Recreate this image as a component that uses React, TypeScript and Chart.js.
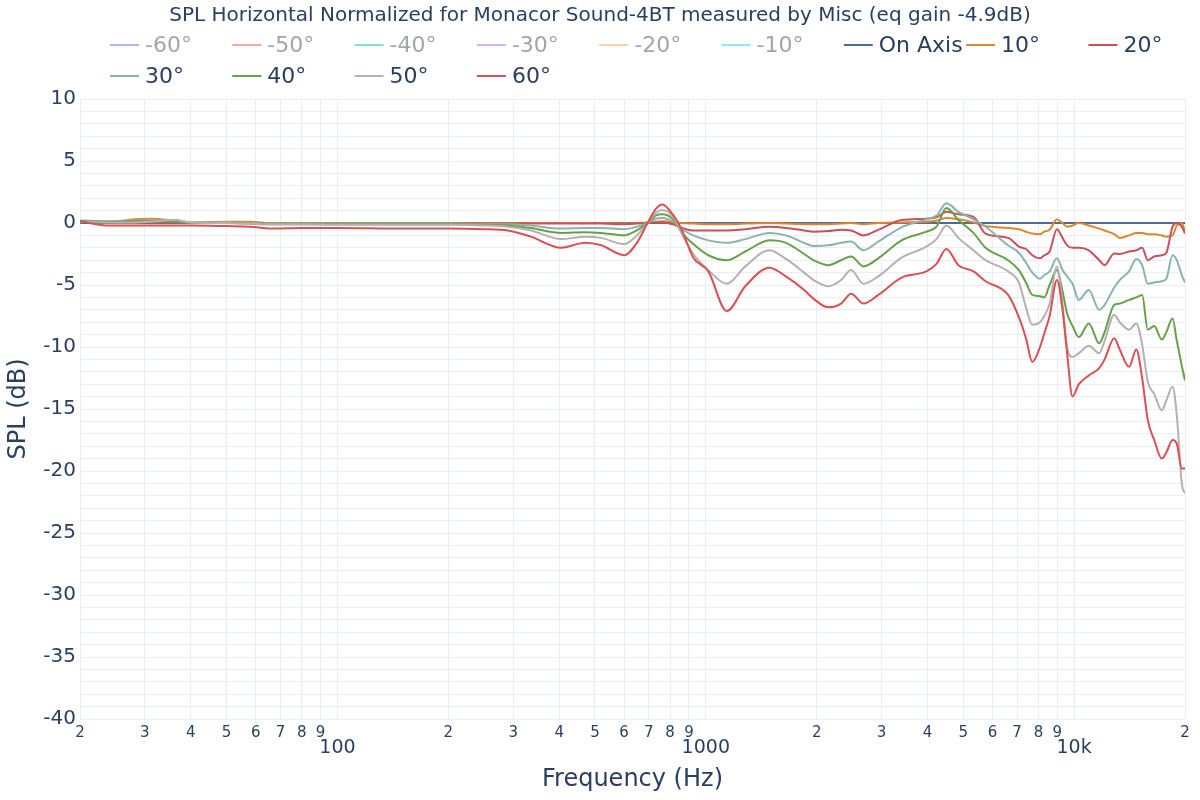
import React, { useEffect, useRef } from 'react';
import { Chart, registerables } from 'chart.js';

Chart.register(...registerables);

const TITLE = 'SPL Horizontal Normalized for Monacor Sound-4BT measured by Misc (eq gain -4.9dB)';
const X_TITLE = 'Frequency (Hz)';
const Y_TITLE = 'SPL (dB)';

const FREQ = [
  20, 24, 28, 31, 36, 40, 50, 58, 66, 80,
  100, 150, 200, 250, 290, 335, 405, 470, 520, 600,
  650, 695, 730, 762, 815, 862, 925, 1016, 1140, 1280,
  1490, 1650, 1850, 1960, 2150, 2330, 2480, 2680, 2940, 3400,
  3970, 4230, 4500, 4850, 5330, 5750, 6620, 7080, 7400, 7700,
  8080, 8300, 8580, 8980, 9300, 9570, 9900, 10300, 10960, 11700,
  12100, 12850, 13300, 14100, 14750, 15300, 15850, 16500, 17300, 17800,
  18500, 19000, 19600, 20000,
];

const ON_AXIS_FREQ = [20, 20000];
const ON_AXIS_SPL = [0, 0];

const SPL_10 = [
  0.1, 0.05, 0.3, 0.35, 0.2, 0.05, 0.1, 0.1, 0, 0,
  0, 0, 0, 0, 0, 0, 0, 0, 0, -0.05,
  0, 0.05, 0.1, 0.15, 0.1, 0, -0.05, -0.1, -0.1, -0.05,
  0, -0.05, -0.1, -0.1, -0.1, -0.05, 0, -0.1, 0, 0.05,
  0.1, 0.2, 0.4, 0.3, 0.05, -0.25, -0.4, -0.5, -0.7, -0.85,
  -0.9, -0.7, -0.55, 0.3, 0, -0.3, -0.2, 0, -0.2, -0.45,
  -0.6, -0.9, -1.2, -1.0, -0.8, -0.8, -0.9, -0.9, -1.0, -1.1,
  -1.0, -0.2, 0.0, -0.7,
];

const SPL_20 = [
  0.15, 0, 0, 0.05, 0.05, 0, 0, 0, -0.05, -0.05,
  -0.05, -0.05, -0.05, -0.05, -0.05, -0.05, -0.05, -0.05, -0.05, -0.1,
  -0.05, 0, 0.05, 0.05, -0.1, -0.4, -0.6, -0.6, -0.6, -0.5,
  -0.3, -0.4, -0.6, -0.7, -0.65, -0.55, -0.6, -1.0, -0.55, 0.25,
  0.35, 0.45, 0.9, 0.7, 0.5, -0.85, -1.2, -1.9, -2.1, -2.6,
  -2.85, -2.6, -2.3, -0.5, -1.2, -1.8, -2.0, -2.0, -2.2, -3.0,
  -3.4, -2.45, -2.5, -2.3, -2.2, -2.0, -3.0, -2.7, -2.6, -2.4,
  -0.3, 0, -0.3, -0.85,
];

const SPL_30 = [
  0.2, 0.15, 0.2, 0.2, 0.25, 0.05, 0.05, 0, -0.05, -0.05,
  -0.05, -0.05, -0.05, -0.1, -0.1, -0.2, -0.45, -0.4, -0.4, -0.5,
  -0.3, 0, 0.35, 0.4, 0.1, -0.5, -1.0, -1.4, -1.6, -1.3,
  -0.8, -1.0, -1.6, -1.85, -1.8, -1.6, -1.5, -2.2, -1.5, -0.35,
  0.3, 0.6, 1.6, 0.9, 0.3, -0.3, -1.8, -2.4, -3.2, -4.0,
  -4.5, -4.2, -3.9, -2.85, -3.8, -4.3, -4.9, -6.2, -5.4, -7.0,
  -6.6, -5.2, -4.6, -3.9, -2.9, -3.4, -4.9, -4.8, -4.7, -4.5,
  -2.6, -3.0, -4.2, -4.8,
];

const SPL_40 = [
  0.15, 0.1, 0.15, 0.15, 0.1, 0, 0, -0.05, -0.1, -0.1,
  -0.1, -0.1, -0.1, -0.15, -0.2, -0.4, -0.8, -0.75, -0.8, -1.0,
  -0.6, 0, 0.6, 0.7, 0.3, -0.8, -1.7, -2.6, -3.0, -2.3,
  -1.4, -1.6, -2.5, -3.0, -3.4, -3.0, -2.7, -3.5, -2.85, -1.4,
  -0.7, -0.3, 1.2, 0.25, -0.8, -2.0, -3.0, -3.8, -4.8, -5.8,
  -5.9, -6.0, -5.0, -3.8, -5.5, -7.3, -8.3, -9.2, -8.1, -9.7,
  -8.8, -6.6, -6.5, -6.2, -6.0, -5.8, -8.6, -8.3, -9.4, -8.8,
  -7.7, -9.5, -11.5, -12.7,
];

const SPL_50 = [
  0.1, 0.05, 0.05, 0.1, 0.25, 0.05, 0, -0.05, -0.1, -0.1,
  -0.15, -0.15, -0.15, -0.2, -0.3, -0.6, -1.3, -1.1, -1.2, -1.7,
  -1.0, 0, 0.8, 1.05, 0.5, -0.9, -2.5, -3.8, -4.9, -3.5,
  -2.2, -2.9, -4.0, -4.6, -5.1, -4.6, -3.8, -4.9, -4.3, -2.8,
  -1.9, -1.3, -0.2, -1.2, -2.2, -3.0, -3.9, -4.8, -6.8, -8.2,
  -8.0, -7.5, -6.5, -3.5, -6.5, -10.0, -10.8, -10.5, -9.9, -10.5,
  -9.5, -7.4, -8.0, -8.6, -8.1, -9.8, -12.8, -13.8, -15.1, -14.3,
  -13.2, -15.5, -21.0, -21.8,
];

const SPL_60 = [
  0.15, -0.2, -0.2, -0.2, -0.2, -0.2, -0.25, -0.3, -0.45, -0.4,
  -0.4, -0.45, -0.45, -0.5, -0.6, -1.1, -2.0, -1.6, -1.8, -2.6,
  -1.6, 0, 1.1, 1.5, 0.65, -0.6, -2.8, -3.9, -7.1, -5.1,
  -3.6, -4.3, -5.4, -6.1, -6.8, -6.5, -5.7, -6.5, -5.8, -4.4,
  -3.9, -3.3, -2.1, -3.4, -3.9, -4.7, -5.8, -7.6, -9.3, -11.2,
  -10.0, -8.9, -7.5, -4.6, -7.0, -10.5, -14.0, -13.0, -12.3, -11.7,
  -11.0, -9.3, -10.2, -11.6, -10.2, -12.5, -15.9, -17.5, -19.0, -18.5,
  -17.5, -17.8, -19.8, -19.8,
];

const X_TICKS = [
  20, 30, 40, 50, 60, 70, 80, 90,
  100, 200, 300, 400, 500, 600, 700, 800, 900,
  1000, 2000, 3000, 4000, 5000, 6000, 7000, 8000, 9000,
  10000, 20000,
];
const X_DECADES = [100, 1000, 10000];
const X_DECADE_LABELS = ['100', '1000', '10k'];
const Y_MIN = -40;
const Y_MAX = 10;
const Y_LABELS = [-40, -35, -30, -25, -20, -15, -10, -5, 0, 5, 10];

const FONT = '"DejaVu Sans", Verdana, sans-serif';
const TEXT = '#2a3f5f';
const GRID = '#e9eef5';

type Series = { label: string; color: string; hidden?: boolean; f: number[]; v: number[] };

const SERIES: Series[] = [
  { label: '-60°', color: '#636efa', hidden: true, f: [], v: [] },
  { label: '-50°', color: '#ef553b', hidden: true, f: [], v: [] },
  { label: '-40°', color: '#00cc96', hidden: true, f: [], v: [] },
  { label: '-30°', color: '#ab63fa', hidden: true, f: [], v: [] },
  { label: '-20°', color: '#ffa15a', hidden: true, f: [], v: [] },
  { label: '-10°', color: '#19d3f3', hidden: true, f: [], v: [] },
  { label: 'On Axis', color: '#4c6b9e', f: ON_AXIS_FREQ, v: ON_AXIS_SPL },
  { label: '10°', color: '#e0852d', f: FREQ, v: SPL_10 },
  { label: '20°', color: '#c9505a', f: FREQ, v: SPL_20 },
  { label: '30°', color: '#8ab3af', f: FREQ, v: SPL_30 },
  { label: '40°', color: '#66a04a', f: FREQ, v: SPL_40 },
  { label: '50°', color: '#b7b0ae', f: FREQ, v: SPL_50 },
  { label: '60°', color: '#dc4f52', f: FREQ, v: SPL_60 },
];

const headerPlugin = {
  id: 'header',
  afterDraw(chart: any) {
    const ctx = chart.ctx as CanvasRenderingContext2D;
    ctx.save();
    ctx.font = `20px ${FONT}`;
    ctx.fillStyle = TEXT;
    ctx.textAlign = 'center';
    ctx.textBaseline = 'middle';
    ctx.fillText(TITLE, chart.width / 2, 16);

    const left = 110;
    const colW = 122.3;
    const rows = [45, 76];
    const perRow = 9;
    ctx.textAlign = 'left';
    chart.data.datasets.forEach((ds: any, i: number) => {
      const visible = chart.isDatasetVisible(i);
      const col = i % perRow;
      const row = Math.floor(i / perRow);
      const x = left + col * colW;
      const y = rows[row];
      ctx.globalAlpha = visible ? 1 : 0.5;
      ctx.strokeStyle = ds.borderColor;
      ctx.lineWidth = 2;
      ctx.beginPath();
      ctx.moveTo(x, y);
      ctx.lineTo(x + 29, y);
      ctx.stroke();
      ctx.globalAlpha = 1;
      ctx.fillStyle = visible ? TEXT : '#a0a5ae';
      ctx.font = `22px ${FONT}`;
      ctx.fillText(ds.label, x + 35, y + 1);
    });
    ctx.restore();
  },
};

export default function App() {
  const ref = useRef<HTMLCanvasElement | null>(null);

  useEffect(() => {
    if (!ref.current) return;
    const datasets = SERIES.map((s, i) => ({
      label: s.label,
      data: s.f.map((f, j) => ({ x: f, y: s.v[j] })),
      borderColor: s.color,
      backgroundColor: s.color,
      borderWidth: 2,
      pointRadius: 0,
      fill: false,
      hidden: !!s.hidden,
      cubicInterpolationMode: 'monotone' as const,
      order: SERIES.length - i,
    }));

    const chart = new Chart(ref.current, {
      type: 'line',
      data: { datasets },
      plugins: [headerPlugin],
      options: {
        responsive: false,
        animation: false,
        parsing: true,
        layout: { padding: { top: 99, right: 15, left: 0, bottom: 0 } },
        plugins: {
          legend: { display: false },
          title: { display: false },
          tooltip: { enabled: false },
        },
        scales: {
          x: {
            type: 'logarithmic',
            position: 'bottom',
            min: 20,
            max: 20000,
            afterBuildTicks: (s: any) => {
              s.ticks = X_TICKS.map((v) => ({ value: v }));
            },
            afterFit: (s: any) => {
              s.height = 81;
              s.paddingLeft = 0;
              s.paddingRight = 0;
            },
            grid: { color: GRID, drawTicks: false, lineWidth: 1 },
            border: { display: false },
            ticks: {
              autoSkip: false,
              maxRotation: 0,
              minRotation: 0,
              padding: 5,
              color: TEXT,
              callback: (value: any) => {
                const v = Number(value);
                const d = X_DECADES.indexOf(v);
                if (d >= 0) return X_DECADE_LABELS[d];
                return String(v).charAt(0);
              },
              font: (c: any) => {
                const v = c.tick ? c.tick.value : 0;
                return X_DECADES.indexOf(v) >= 0
                  ? { family: FONT, size: 19, lineHeight: 2.5 }
                  : { family: FONT, size: 15, lineHeight: 1.2 };
              },
            },
            title: {
              display: true,
              text: X_TITLE,
              color: TEXT,
              font: { family: FONT, size: 24 },
              padding: { top: 0, bottom: 6 },
            },
          },
          y: {
            type: 'linear',
            min: Y_MIN,
            max: Y_MAX,
            afterBuildTicks: (s: any) => {
              const t: { value: number }[] = [];
              for (let v = Y_MIN; v <= Y_MAX; v += 1) t.push({ value: v });
              s.ticks = t;
            },
            afterFit: (s: any) => {
              s.width = 80;
              s.paddingTop = 0;
              s.paddingBottom = 0;
            },
            grid: { color: GRID, drawTicks: false, lineWidth: 1 },
            border: { display: false },
            ticks: {
              autoSkip: false,
              padding: 4,
              color: TEXT,
              font: { family: FONT, size: 20 },
              callback: (value: any) => {
                const v = Number(value);
                return Y_LABELS.indexOf(v) >= 0 ? String(v) : '';
              },
            },
            title: {
              display: true,
              text: Y_TITLE,
              color: TEXT,
              font: { family: FONT, size: 24 },
              padding: { top: 4, bottom: 0 },
            },
          },
        },
      } as any,
    });
    return () => chart.destroy();
  }, []);

  return (
    <div style={{ position: 'absolute', left: 0, top: 0, width: 1200, height: 800, background: '#fff' }}>
      <canvas ref={ref} width={1200} height={800} style={{ display: 'block' }} />
    </div>
  );
}
